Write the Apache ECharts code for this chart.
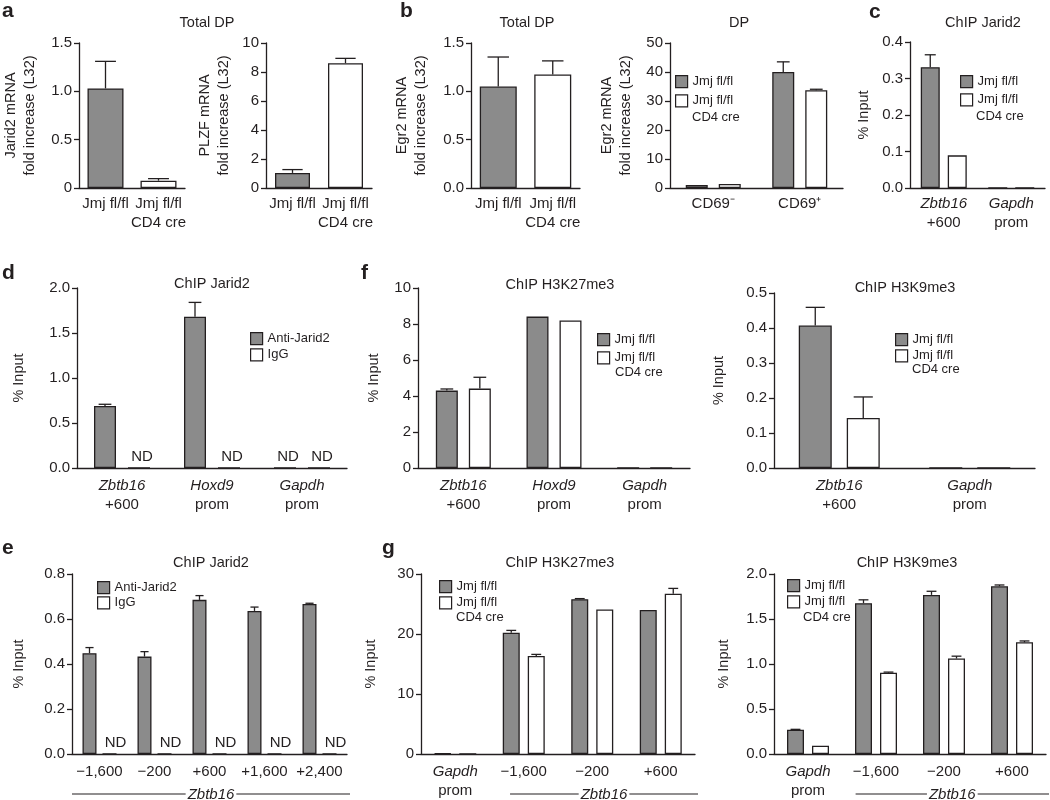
<!DOCTYPE html>
<html><head><meta charset="utf-8">
<script src="https://cdn.jsdelivr.net/npm/echarts@6/dist/echarts.min.js"></script>
<style>html,body{margin:0;padding:0;background:#fff}#c{width:1050px;height:800px}</style>
</head><body><div id="c"></div><script>
// ---------------- data ----------------
const aCats = ['Jmj fl/fl', 'Jmj fl/fl\nCD4 cre'];
const aJarid2 = [1.03, 0.076];
const aJarid2Err = [1.31, 0.097];
const aPlzf = [1.04, 8.61];
const aPlzfErr = [1.27, 8.94];

const bCats = ['Jmj fl/fl', 'Jmj fl/fl\nCD4 cre'];
const bEgr2 = [1.05, 1.175];
const bEgr2Err = [1.355, 1.315];

const bDpCats = ['CD69\u207B', 'CD69\u207A'];
const bDpFl = [1.05, 40.0];
const bDpFlErr = [null, 43.5];
const bDpCre = [1.4, 33.7];
const bDpCreErr = [null, 34.05];

const cCats = ['Zbtb16\n+600', 'Gapdh\nprom'];
const cFl = [0.331, 0];
const cFlErr = [0.365, null];
const cCre = [0.0895, 0];
const cCreErr = [null, null];

const dCats = ['Zbtb16\n+600', 'Hoxd9\nprom', 'Gapdh\nprom'];
const dAnti = [0.69, 1.68, 'ND'];
const dAntiErr = [0.708, 1.84, null];
const dIgG = ['ND', 'ND', 'ND'];

const fCats = ['Zbtb16\n+600', 'Hoxd9\nprom', 'Gapdh\nprom'];
const fK27Fl = [4.30, 8.41, 0];
const fK27FlErr = [4.39, null, null];
const fK27Cre = [4.41, 8.20, 0];
const fK27CreErr = [5.04, null, null];

const f2Cats = ['Zbtb16\n+600', 'Gapdh\nprom'];
const fK9Fl = [0.407, 0];
const fK9FlErr = [0.459, null];
const fK9Cre = [0.143, 0];
const fK9CreErr = [0.203, null];

const eCats = ['\u22121,600', '\u2212200', '+600', '+1,600', '+2,400'];
const eAnti = [0.448, 0.433, 0.685, 0.636, 0.667];
const eAntiErr = [0.473, 0.455, 0.704, 0.653, 0.670];
const eIgG = ['ND', 'ND', 'ND', 'ND', 'ND'];

const gCats = ['Gapdh\nprom', '\u22121,600', '\u2212200', '+600'];
const gK27Fl = [0.1, 20.2, 25.8, 24.0];
const gK27FlErr = [null, 20.6, 25.9, null];
const gK27Cre = [0, 16.35, 24.1, 26.7];
const gK27CreErr = [null, 16.6, null, 27.6];
const gK9Fl = [0.269, 1.676, 1.768, 1.864];
const gK9FlErr = [0.274, 1.713, 1.808, 1.878];
const gK9Cre = [0.092, 0.902, 1.061, 1.241];
const gK9CreErr = [null, 0.91, 1.087, 1.256];

// ---------------- styles ----------------
const FONT = "'Liberation Sans', Arial, Helvetica, sans-serif";
const INK = '#231f20';
const GRAY = '#8b8b8b';
const WHITE = '#ffffff';
const ITALIC = ['Zbtb16', 'Hoxd9', 'Gapdh'];
const FL = 'Jmj fl/fl', CRE = 'Jmj fl/fl CD4 cre', ANTI = 'Anti-Jarid2', IGG = 'IgG';
const COLORS = {[FL]: GRAY, [CRE]: WHITE, [ANTI]: GRAY, [IGG]: WHITE};

const fmtZero0 = v => v === 0 ? '0' : v.toFixed(1);
const fmtDec1 = v => v.toFixed(1);
const fmtInt = v => String(v);

function catFmt(v) {
  return v.split('\n').map(l => (ITALIC.indexOf(l) >= 0 ? '{i|' : '{n|') + l + '}').join('\n');
}
const RICH = {
  i: {fontStyle: 'italic', fontSize: 15, lineHeight: 19, color: INK, fontFamily: FONT},
  n: {fontSize: 15, lineHeight: 19, color: INK, fontFamily: FONT}
};

const option = {
  animation: false, backgroundColor: '#fff',
  textStyle: {fontFamily: FONT},
  grid: [], xAxis: [], yAxis: [], series: [], legend: []
};
const brackets = [];

function errSeries(i, values, errs, off, capW) {
  const data = [];
  errs.forEach((e, k) => { if (e != null) data.push([k, values[k], e]); });
  if (!data.length) return;
  option.series.push({
    type: 'custom', xAxisIndex: i, yAxisIndex: i, z: 5, silent: true,
    data: data,
    renderItem(params, api) {
      const p0 = api.coord([api.value(0), api.value(1)]);
      const p1 = api.coord([api.value(0), api.value(2)]);
      const x = p0[0] + off, h = capW / 2;
      const st = {stroke: INK, lineWidth: 1.3};
      return {type: 'group', children: [
        {type: 'line', shape: {x1: x, y1: p0[1], x2: x, y2: p1[1]}, style: st},
        {type: 'line', shape: {x1: x - h, y1: p1[1], x2: x + h, y2: p1[1]}, style: st}
      ]};
    }
  });
}

function addPanel(p) {
  const i = option.grid.length;
  option.grid.push(p.grid);
  option.xAxis.push({
    type: 'category', gridIndex: i, data: p.cats,
    axisLine: {lineStyle: {color: INK, width: 1.3}},
    axisTick: {alignWithLabel: true, length: 6, lineStyle: {color: INK, width: 1.3}},
    axisLabel: {interval: 0, margin: p.labelMargin || 8, color: INK, formatter: catFmt, rich: RICH},
    splitLine: {show: false}
  });
  option.yAxis.push({
    type: 'value', gridIndex: i, min: 0, max: p.yMax, interval: p.yInt,
    axisLine: {show: true, lineStyle: {color: INK, width: 1.3}},
    axisTick: {show: true, length: 5, lineStyle: {color: INK, width: 1.3}},
    axisLabel: {margin: 7, color: INK, fontSize: 15, formatter: p.yFmt},
    splitLine: {show: false},
    name: p.yName, nameLocation: 'middle', nameGap: p.nameGap,
    nameTextStyle: {fontSize: 14.5, lineHeight: 19, color: INK}
  });
  const capW = Math.max(8, p.barWidth * 0.58);
  if (p.single) {
    option.series.push({
      type: 'bar', xAxisIndex: i, yAxisIndex: i, barWidth: p.barWidth,
      itemStyle: {borderColor: INK, borderWidth: 1.3},
      data: p.values.map((v, k) => ({value: v, itemStyle: {color: k === 0 ? GRAY : WHITE}}))
    });
    errSeries(i, p.values, p.errs, 0, capW);
  } else {
    const n = p.series.length;
    p.series.forEach((s, si) => {
      option.series.push({
        type: 'bar', name: s.name, xAxisIndex: i, yAxisIndex: i,
        barWidth: p.barWidth, barGap: (p.gap / p.barWidth * 100) + '%',
        itemStyle: {color: COLORS[s.name], borderColor: INK, borderWidth: 1.3},
        data: s.values.map(v => v === 'ND'
          ? {value: 0, label: {show: true, formatter: 'ND', position: 'top', distance: 3,
              offset: [p.ndOffset || 0, 0], fontSize: 15, color: INK}}
          : v)
      });
      const off = (si - (n - 1) / 2) * (p.barWidth + p.gap);
      errSeries(i, s.values.map(v => v === 'ND' ? 0 : v), s.errs, off, capW);
    });
  }
  if (p.legend) {
    option.legend.push({
      data: p.legend.names, orient: 'vertical', left: p.legend.left, top: p.legend.top,
      itemWidth: 12, itemHeight: 12, itemGap: p.legend.gap, padding: 0, icon: 'rect',
      selectedMode: false,
      textStyle: {fontSize: 13, color: INK},
      itemStyle: {borderColor: INK, borderWidth: 1.2},
      formatter: nm => nm === CRE ? FL : nm
    });
  }
  if (p.bracket) brackets.push(Object.assign({axis: i}, p.bracket));
}

// a
addPanel({grid: {left: 74, top: 43, width: 111, height: 145}, cats: aCats, single: true,
  values: aJarid2, errs: aJarid2Err, barWidth: 36, yMax: 1.5, yInt: 0.5, yFmt: fmtZero0,
  yName: 'Jarid2 mRNA\nfold increase (L32)', nameGap: 40, labelMargin: 6});
addPanel({grid: {left: 266, top: 43, width: 106, height: 145}, cats: aCats, single: true,
  values: aPlzf, errs: aPlzfErr, barWidth: 35, yMax: 10, yInt: 2, yFmt: fmtInt,
  yName: 'PLZF mRNA\nfold increase (L32)', nameGap: 33, labelMargin: 6});
// b
addPanel({grid: {left: 471, top: 43, width: 109, height: 145}, cats: bCats, single: true,
  values: bEgr2, errs: bEgr2Err, barWidth: 37, yMax: 1.5, yInt: 0.5, yFmt: fmtDec1,
  yName: 'Egr2 mRNA\nfold increase (L32)', nameGap: 41, labelMargin: 6});
addPanel({grid: {left: 670, top: 43, width: 173, height: 145}, cats: bDpCats,
  series: [{name: FL, values: bDpFl, errs: bDpFlErr}, {name: CRE, values: bDpCre, errs: bDpCreErr}],
  barWidth: 22, gap: 11, yMax: 50, yInt: 10, yFmt: fmtInt,
  yName: 'Egr2 mRNA\nfold increase (L32)', nameGap: 35, labelMargin: 6,
  legend: {names: [FL, CRE], left: 675, top: 75, gap: 6}});
// c
addPanel({grid: {left: 910, top: 42, width: 135, height: 146}, cats: cCats,
  series: [{name: FL, values: cFl, errs: cFlErr}, {name: CRE, values: cCre, errs: cCreErr}],
  barWidth: 19, gap: 8, yMax: 0.4, yInt: 0.1, yFmt: fmtDec1,
  yName: '% Input', nameGap: 37, labelMargin: 6,
  legend: {names: [FL, CRE], left: 960, top: 75, gap: 5}});
// d
addPanel({grid: {left: 77, top: 288, width: 270, height: 180}, cats: dCats,
  series: [{name: ANTI, values: dAnti, errs: dAntiErr}, {name: IGG, values: dIgG, errs: []}],
  barWidth: 22, gap: 12, yMax: 2, yInt: 0.5, yFmt: fmtDec1, ndOffset: 3,
  yName: '% Input', nameGap: 49,
  legend: {names: [ANTI, IGG], left: 250, top: 332, gap: 3}});
// f
addPanel({grid: {left: 418, top: 288, width: 272, height: 180}, cats: fCats,
  series: [{name: FL, values: fK27Fl, errs: fK27FlErr}, {name: CRE, values: fK27Cre, errs: fK27CreErr}],
  barWidth: 22, gap: 11, yMax: 10, yInt: 2, yFmt: fmtInt,
  yName: '% Input', nameGap: 35,
  legend: {names: [FL, CRE], left: 597, top: 333, gap: 5}});
addPanel({grid: {left: 774, top: 293, width: 261, height: 175}, cats: f2Cats,
  series: [{name: FL, values: fK9Fl, errs: fK9FlErr}, {name: CRE, values: fK9Cre, errs: fK9CreErr}],
  barWidth: 33, gap: 15, yMax: 0.5, yInt: 0.1, yFmt: fmtDec1,
  yName: '% Input', nameGap: 46,
  legend: {names: [FL, CRE], left: 895, top: 333, gap: 3}});
// e
addPanel({grid: {left: 72, top: 574, width: 275, height: 180}, cats: eCats,
  series: [{name: ANTI, values: eAnti, errs: eAntiErr}, {name: IGG, values: eIgG, errs: []}],
  barWidth: 14, gap: 6, yMax: 0.8, yInt: 0.2, yFmt: fmtDec1, ndOffset: 6,
  yName: '% Input', nameGap: 44,
  legend: {names: [ANTI, IGG], left: 97, top: 581, gap: 2},
  bracket: {from: 0, to: 4, startFrac: 0.5}});
// g
addPanel({grid: {left: 421, top: 574, width: 274, height: 180}, cats: gCats,
  series: [{name: FL, values: gK27Fl, errs: gK27FlErr}, {name: CRE, values: gK27Cre, errs: gK27CreErr}],
  barWidth: 17, gap: 8, yMax: 30, yInt: 10, yFmt: fmtInt,
  yName: '% Input', nameGap: 41,
  legend: {names: [FL, CRE], left: 439, top: 580, gap: 3},
  bracket: {from: 1, to: 3, startFrac: 0.2}});
addPanel({grid: {left: 774, top: 574, width: 272, height: 180}, cats: gCats,
  series: [{name: FL, values: gK9Fl, errs: gK9FlErr}, {name: CRE, values: gK9Cre, errs: gK9CreErr}],
  barWidth: 17, gap: 8, yMax: 2, yInt: 0.5, yFmt: fmtDec1,
  yName: '% Input', nameGap: 41,
  legend: {names: [FL, CRE], left: 787, top: 579, gap: 3},
  bracket: {from: 1, to: 3, startFrac: 0.3}});

const chart = echarts.init(document.getElementById('c'), null, {renderer: 'canvas'});
chart.setOption(option);

// ---------------- text annotations ----------------
const graphic = [];
function txt(t, x, y, extra) {
  graphic.push({type: 'text', x: x, y: y, silent: true,
    style: Object.assign({text: t, fill: INK, font: '14.5px ' + FONT, align: 'center', verticalAlign: 'middle'}, extra || {})});
}
[['Total DP', 207, 23], ['Total DP', 527, 23], ['DP', 739, 23], ['ChIP Jarid2', 983, 23],
 ['ChIP Jarid2', 212, 284], ['ChIP H3K27me3', 560, 285], ['ChIP H3K9me3', 905, 288],
 ['ChIP Jarid2', 211, 563], ['ChIP H3K27me3', 560, 563], ['ChIP H3K9me3', 907, 563]]
  .forEach(a => txt(a[0], a[1], a[2]));
[['a', 2, 11], ['b', 400, 11], ['c', 869, 12], ['d', 2, 273], ['f', 361, 273], ['e', 2, 548], ['g', 382, 548]]
  .forEach(a => txt(a[0], a[1], a[2], {font: 'bold 21px ' + FONT, align: 'left'}));
// second line of the "Jmj fl/fl CD4 cre" legend entries
[[692, 117], [976, 116], [615, 372], [912, 369], [456, 617], [803, 617]]
  .forEach(a => txt('CD4 cre', a[0], a[1], {font: '13px ' + FONT, align: 'left'}));

// Zbtb16 brackets under the axes, placed from the axis scale
brackets.forEach(b => {
  const c0 = chart.convertToPixel({xAxisIndex: b.axis}, b.from);
  const c1 = chart.convertToPixel({xAxisIndex: b.axis}, b.to);
  const band = chart.convertToPixel({xAxisIndex: b.axis}, b.from + 1) - c0;
  const x0 = c0 - band * b.startFrac, x1 = c1 + band / 2 + 3;
  const y = 794;
  graphic.push({type: 'line', silent: true, shape: {x1: x0, y1: y, x2: x1, y2: y}, style: {stroke: INK, lineWidth: 1.2}});
  graphic.push({type: 'text', silent: true, x: (x0 + x1) / 2, y: y + 1, z: 10,
    style: {text: 'Zbtb16', fill: INK, font: 'italic 15px ' + FONT, align: 'center', verticalAlign: 'middle',
      backgroundColor: '#fff', padding: [0, 2]}});
});
chart.setOption({graphic: graphic});
</script></body></html>
